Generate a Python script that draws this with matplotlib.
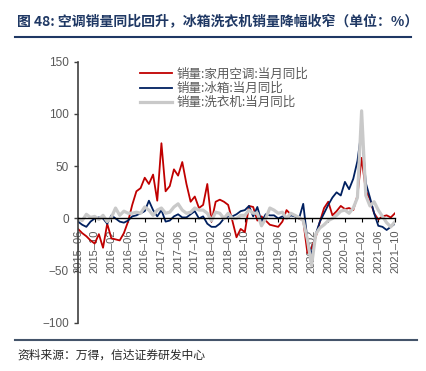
import matplotlib
matplotlib.use("Agg")
import matplotlib.pyplot as plt
import pandas as pd

plt.rcParams['font.family'] = ['Liberation Sans', 'Noto Sans CJK SC']

# monthly data, 2015-06 .. 2021-10
months = pd.date_range('2015-06-01', '2021-10-01', freq='MS')

ac = [-10, -14, -17, -21, -24, -15, -28, -5, -19, -20, -21, -14, -3, 13, 26, 29,
      39, 33, 42, 17, 72, 26, 31, 47, 41, 54, 33, 16, 21, 10, 13, 33, -3, 16, 18,
      16, 13, -2, -18, -10, -13, 12, 11, -2, 2, -2, -6, -7, -8, -3, 8, 4, 3, 0,
      -2, -33, -28, -18, -3, 10, 16, 3, 7, 12, 9, 10, 8, 22, 58, 27, 18, 5, -1,
      2, 3, 1, 5]
fridge = [-3, -6, -8, -3, 0, 1, 0, -5, 3, 0, -3, -4, -2, 2, 3, 5, 7, 17, 8, 2,
          8, -3, -2, 2, 4, 1, 1, 4, 7, 0, 2, -5, -8, -8, -5, 0, 2, 2, 4, 7, 8,
          12, 2, 11, -3, 4, 3, 3, 0, 2, 0, 3, 2, 0, 14, -20, -35, -15, -3, 5,
          13, 20, 25, 22, 35, 28, 38, 55, 85, 34, 20, 5, -7, -8, -11, -8, -5]
washer = [0, -2, 4, 1, 2, -1, 3, -3, 1, 10, 3, 7, 5, 5, 6, 5, 11, 8, 3, 8, 10,
          5, 6, 11, 14, 8, 5, 6, 10, 8, 8, 5, -2, 6, 5, 0, 5, 0, 0, 3, 3, 8, 5,
          5, -7, 0, 10, 8, 5, 6, 0, 5, 3, 1, -2, -20, -45, -15, -9, -6, -2, 0,
          3, 7, 8, 5, 10, 20, 103, 22, 12, 16, 8, 2, -4, -8, -3]

labels = ['销量:家用空调:当月同比', '销量:冰箱:当月同比', '销量:洗衣机:当月同比']
colors = ['#C00000', '#002060', '#C9C9C9']
widths = [1.3, 1.3, 2.3]

fig = plt.figure(figsize=(4.27, 3.71), dpi=100)
ax = fig.add_axes([0.1827, 0.1294, 0.7423, 0.7043])

# spine position first: moving it resets the tick settings
for s in ['top', 'right']:
    ax.spines[s].set_visible(False)
ax.spines['bottom'].set_position(('data', 0))
ax.spines['bottom'].set_color('black')
ax.spines['bottom'].set_linewidth(1)
ax.spines['left'].set_color('#404040')
ax.spines['left'].set_linewidth(1.2)

x = list(range(len(months)))
for series, lab, c, w in zip([ac, fridge, washer], labels, colors, widths):
    ax.plot(x, series, color=c, lw=w, label=lab)

ax.set_xlim(0, len(months) - 1)
ax.set_ylim(-100, 150)
ax.set_yticks([-100, -50, 0, 50, 100, 150])

tick_pos = x[::4]
ax.set_xticks(tick_pos)
ax.set_xticklabels([months[i].strftime('%Y–%m') for i in tick_pos],
                   rotation=90, fontsize=8, color='#595959')
ax.tick_params(axis='y', labelsize=8.5, labelcolor='#595959', length=3,
               color='#404040', width=1)
ax.tick_params(axis='x', length=3, color='black', pad=5)

leg = ax.legend(loc='upper left', bbox_to_anchor=(0.16, 1.02), frameon=False,
                handlelength=2.6, handletextpad=0.3, labelspacing=0.1,
                prop={'family': 'Noto Sans CJK SC', 'size': 9})
for t in leg.get_texts():
    t.set_color('#595959')

fig.text(0.04, 0.94, '图 48: 空调销量同比回升，冰箱洗衣机销量降幅收窄（单位：%）',
         family=['Noto Sans CJK SC'], fontsize=10, fontweight='bold',
         color='#1F3864', va='center')
fig.add_artist(plt.Line2D([0.035, 0.963], [0.9, 0.9], color='#1F3864', lw=1.5))
fig.add_artist(plt.Line2D([0.035, 0.977], [0.083, 0.083], color='#44546A', lw=1.5))
fig.text(0.04, 0.043, '资料来源：万得，信达证券研发中心',
         family=['Noto Sans CJK SC'], fontsize=8.5, style='italic',
         color='#262626', va='center')

fig.savefig('out.png', dpi=100)
